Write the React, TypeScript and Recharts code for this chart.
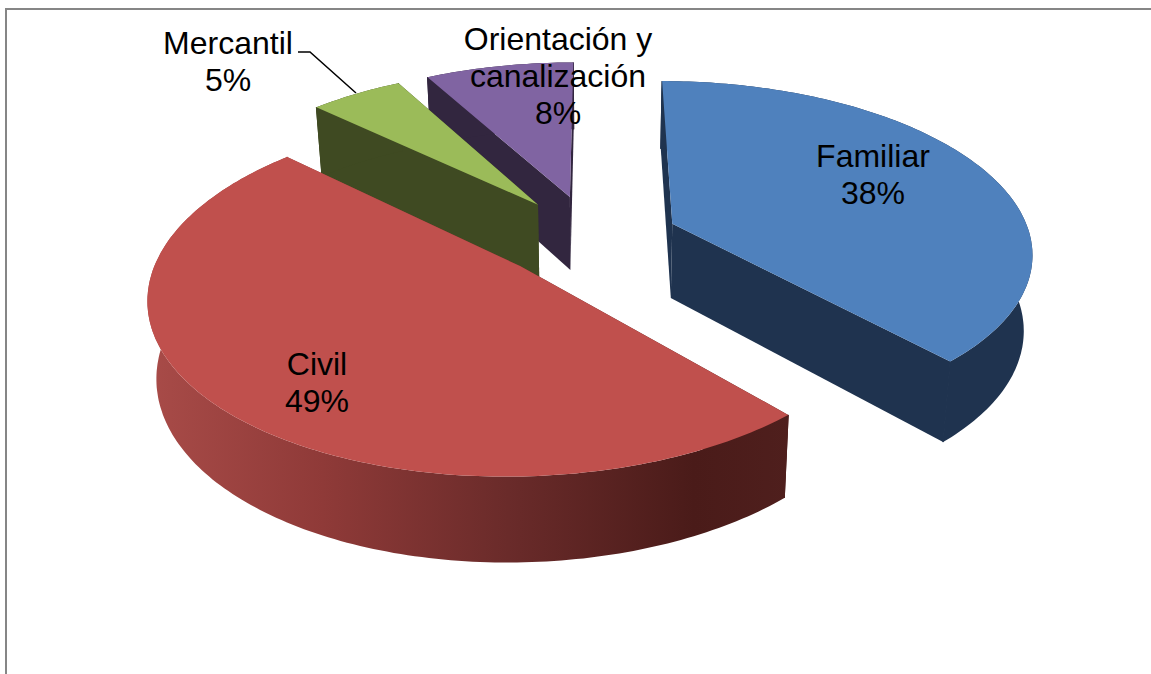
import { PieChart, Pie } from 'recharts';

const categories = ['Orientación y canalización', 'Mercantil', 'Civil', 'Familiar'];
// shown rounded on the labels: 8, 5, 49, 38
const shares = [8, 5, 48.7, 38.3];
const topColors = ['#8064A2', '#9BBB59', '#C0504D', '#4F81BD'];
const wallColors = ['#32263F', '#3F4A22', 'url(#civilWall)', '#1F334F'];
const labelRows = [['Orientación y', 'canalización'], ['Mercantil'], ['Civil'], ['Familiar']];

const tableData = categories.map((name, i) => ({
  name,
  value: shares[i],
  fill: topColors[i],
  wall: wallColors[i],
  rows: labelRows[i],
}));

// where each label sits: centre x, first baseline
const labelSpots: Record<string, [number, number]> = {
  'Orientación y canalización': [558, 50],
  Mercantil: [228, 54],
  Civil: [317, 375],
  Familiar: [873, 167],
};

// small per-slice corrections to the explode direction, in pie radii
const explodeNudge: Record<string, [number, number]> = {
  'Orientación y canalización': [-0.008, 0],
  Mercantil: [0, 0],
  Civil: [-0.012, 0.04],
  Familiar: [-0.038, 0],
};
const radiusFit: Record<string, number> = {
  'Orientación y canalización': 1,
  Mercantil: 1,
  Civil: 1.006,
  Familiar: 1.012,
};

const W = 1151;
const H = 674;
const CX = 596;
const CY = 240;
const RADIUS = 355;

// 3d look of the excel chart
const PLANE = 362;
const EXPLODE = 0.27;
const PERSPECTIVE = 0.158;
const FALLOFF = 1082;
const DEPTH_BASE = 25;
const DEPTH_NEAR = 50;
const SHRINK = 0.02;

const rad = (deg: number) => (deg * Math.PI) / 180;

function project(u: number, v: number, low = false) {
  const s = 1 / (1 + PERSPECTIVE * v);
  const x = PLANE * u * s;
  const y = CY - FALLOFF + FALLOFF * s;
  if (!low) return [CX + x, y];
  return [CX + x * (1 - SHRINK), y + DEPTH_BASE + DEPTH_NEAR * s];
}

const toPath = (pts: number[][]) =>
  'M' + pts.map((p) => `${p[0].toFixed(1)},${p[1].toFixed(1)}`).join('L') + 'Z';

function Slice3D(props: any) {
  const { startAngle, endAngle, outerRadius, fill, wall, name } = props;
  const mid = rad((startAngle + endAngle) / 2);
  const nudge = explodeNudge[name] ?? [0, 0];
  const ox = EXPLODE * Math.cos(mid) + nudge[0];
  const oy = EXPLODE * Math.sin(mid) + nudge[1];
  const r = (outerRadius / PLANE) * (radiusFit[name] ?? 1);

  const rim: [number, number][] = [];
  const steps = Math.ceil(Math.abs(endAngle - startAngle));
  for (let i = 0; i <= steps; i++) {
    const a = rad(startAngle + ((endAngle - startAngle) * i) / steps);
    rim.push([ox + r * Math.cos(a), oy + r * Math.sin(a)]);
  }
  const first = rim[0];
  const last = rim[rim.length - 1];
  const hi = (p: number[]) => project(p[0], p[1]);
  const lo = (p: number[]) => project(p[0], p[1], true);
  const apex = [ox, oy];

  const side1 = toPath([hi(apex), hi(first), lo(first), lo(apex)]);
  const side2 = toPath([hi(apex), hi(last), lo(last), lo(apex)]);
  const outer = toPath([...rim.map(hi), ...rim.slice().reverse().map(lo)]);
  const top = toPath([hi(apex), ...rim.map(hi)]);
  // the joins between wall faces, stroked so no white hairline shows
  const seams = toPath([hi(first), lo(first)]) + toPath([hi(last), lo(last)]);

  return (
    <g>
      <path d={side1} fill={wall} stroke="none" />
      <path d={side2} fill={wall} stroke="none" />
      <path d={outer} fill={wall} stroke="none" />
      <path d={seams} fill="none" stroke={wall} strokeWidth={1} />
      <path d={top} fill={fill} stroke="none" />
    </g>
  );
}

function SliceLabel(props: any) {
  const { name, value, payload } = props;
  const spot = labelSpots[name ?? payload?.name];
  const rows = [...(payload?.rows ?? props.rows), `${Math.round(value)}%`];
  return (
    <g>
      {name === 'Mercantil' && (
        <polyline points="298,52 310,52 356,93" fill="none" stroke="#000" strokeWidth={1.5} />
      )}
      <text x={spot[0]} y={spot[1]} textAnchor="middle" fontFamily="Liberation Sans" fontSize={32} fill="#000">
        {rows.map((row: string, i: number) => (
          <tspan key={row} x={spot[0]} dy={i === 0 ? 0 : 37}>
            {row}
          </tspan>
        ))}
      </text>
    </g>
  );
}

export default function App() {
  return (
    <div style={{ position: 'absolute', left: 0, top: 0, width: W, height: H, overflow: 'hidden', background: '#fff' }}>
      <div
        style={{
          position: 'absolute',
          left: 5,
          top: 8,
          right: 0,
          bottom: 0,
          borderTop: '2px solid #868686',
          borderLeft: '2px solid #868686',
        }}
      />
      <div style={{ position: 'absolute', left: 0, top: 0 }}>
        <PieChart width={W} height={H} margin={{ top: 0, right: 0, bottom: 0, left: 0 }}>
          <defs>
            <linearGradient id="civilWall" gradientUnits="userSpaceOnUse" x1={150} y1={0} x2={790} y2={0}>
              <stop offset="0%" stopColor="#A84B48" />
              <stop offset="27%" stopColor="#8F3A38" />
              <stop offset="56%" stopColor="#6A2B2A" />
              <stop offset="85%" stopColor="#4A1B19" />
              <stop offset="100%" stopColor="#4F1F1D" />
            </linearGradient>
          </defs>
          <Pie
            data={tableData}
            dataKey="value"
            nameKey="name"
            cx={CX}
            cy={CY}
            outerRadius={RADIUS}
            startAngle={90}
            endAngle={450}
            stroke="none"
            shape={Slice3D}
            label={SliceLabel}
            labelLine={false}
            isAnimationActive={false}
          />
        </PieChart>
      </div>
    </div>
  );
}
